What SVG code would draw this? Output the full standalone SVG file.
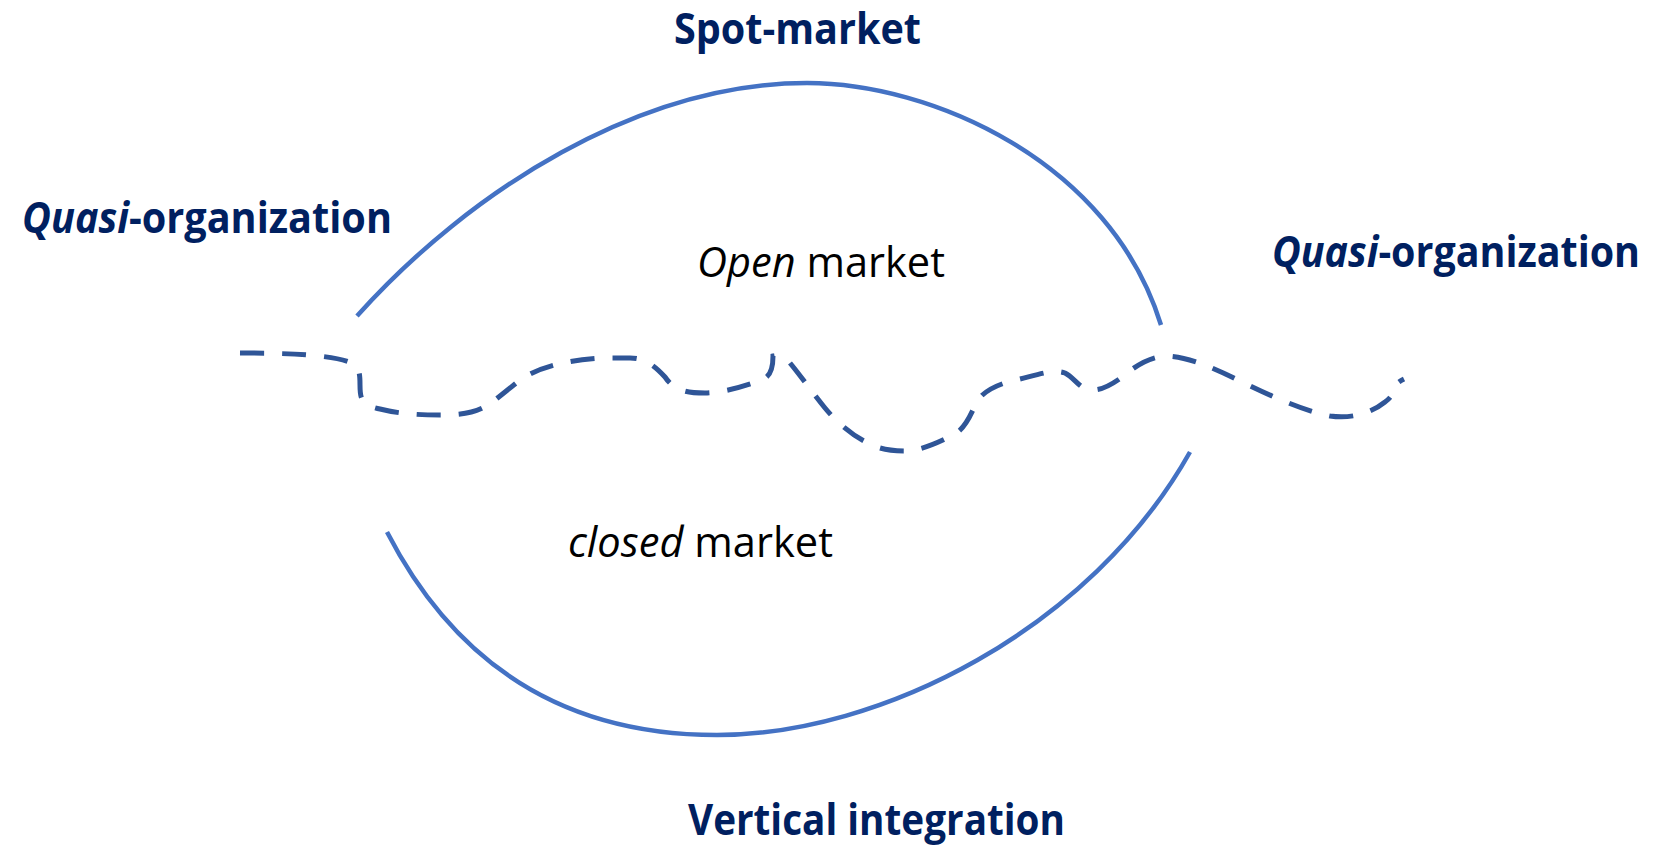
<svg xmlns="http://www.w3.org/2000/svg" width="1655" height="845" viewBox="0 0 1655 845">
  <style>
    .lbl { font-family: "Open Sans", "Noto Sans", "Liberation Sans", sans-serif; font-weight: bold; font-size: 43px; fill: #002060; }
    .inner { font-family: "Open Sans", "Noto Sans", "Liberation Sans", sans-serif; font-size: 42px; fill: #000000; }
    .it { font-style: italic; }
    .arc { fill: none; stroke: #4472C4; stroke-width: 4.5; }
    .boundary { fill: none; stroke: #2F5597; stroke-width: 5; stroke-dasharray: 24 18; }
  </style>
  <rect width="1655" height="845" fill="#ffffff"/>

  <g id="connectors">
    <path id="arc-top" class="arc" d="M357,316 C470,190 640,83 807,83 C930,83 1110,160 1161,325"/>
    <path id="arc-bottom" class="arc" d="M387,532 C467,687 590,735 717,735 C880,735 1090,630 1190,452"/>
    <path id="boundary" class="boundary" d="M240,353 C290,353 330,355 349,362 C360,366 360,375 360,385 C360,400 362,405 380,409 C400,414 420,415 440,415 C470,415 482,410 495,400 L520,380 C540,366 570,360 600,358 L630,358 C645,358 655,366 665,377 C675,392 690,393 705,393 C730,392 750,384 762,380 C771,376 773,368 773,356 C780,354 786,358 790,363 C800,375 812,392 825,408 C835,420 850,435 870,444 C880,449 890,451 905,451 C920,451 940,442 955,434 C968,426 972,410 978,400 C985,390 1000,383 1020,379 C1040,374 1055,369 1065,373 C1075,378 1080,390 1092,390 C1105,390 1115,382 1125,375 C1135,366 1150,357 1165,356 C1185,356 1210,366 1240,381 C1265,393 1300,410 1330,416 C1350,419 1370,414 1385,402 C1392,397 1393,393 1393,390 C1394,385 1400,381 1404,379"/>
  </g>

  <g id="spot-market">
    <text class="lbl" x="674" y="44" textLength="247" lengthAdjust="spacingAndGlyphs">Spot-market</text>
  </g>
  <g id="quasi-left">
    <text class="lbl" x="22" y="233" textLength="370" lengthAdjust="spacingAndGlyphs"><tspan class="it">Quasi</tspan>-organization</text>
  </g>
  <g id="quasi-right" transform="translate(1272,267) scale(0.8954,1)">
    <text class="lbl" x="0" y="0" textLength="411" lengthAdjust="spacingAndGlyphs"><tspan class="it">Quasi</tspan>-organization</text>
  </g>
  <g id="open-market">
    <text class="inner" x="697" y="277" textLength="248" lengthAdjust="spacingAndGlyphs"><tspan class="it">Open</tspan> market</text>
  </g>
  <g id="closed-market">
    <text class="inner" x="568" y="557" textLength="265" lengthAdjust="spacingAndGlyphs"><tspan class="it">closed</tspan> market</text>
  </g>
  <g id="vertical-integration">
    <text class="lbl" x="688" y="835" textLength="377" lengthAdjust="spacingAndGlyphs">Vertical integration</text>
  </g>
</svg>
